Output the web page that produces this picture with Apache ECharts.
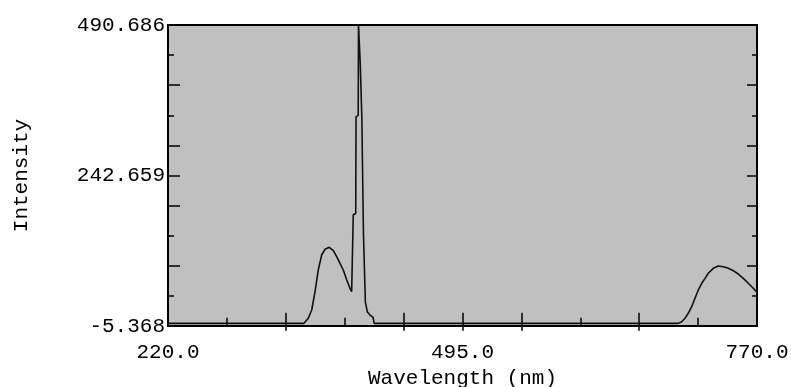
<!DOCTYPE html>
<html>
<head>
<meta charset="utf-8">
<script src="https://cdn.jsdelivr.net/npm/echarts@6/dist/echarts.min.js"></script>
<style>
  html, body { margin: 0; padding: 0; background: #fff; }
  #chart { width: 791px; height: 387px; }
</style>
</head>
<body>
<div id="chart"></div>
<script>
// 光谱数据：波长 (nm)
const wavelength = [220, 347.0, 351.0, 354.2, 357.3, 360.3, 363.5, 366.6, 370.6, 374.4,
  377.5, 380.6, 383.7, 386.9, 389.9, 391.5, 392.5, 393.0, 395.3, 395.6,
  397.6, 397.9, 399.0, 399.5, 400.8, 401.0, 402.2, 402.5, 404.0, 404.3,
  405.9, 406.2, 409.0, 411.5, 412.5, 696.5, 699.7, 702.8, 705.8, 709.0,
  712.1, 715.2, 718.4, 721.5, 724.5, 729.2, 733.9, 738.5, 743.2, 747.9,
  752.5, 757.2, 761.9, 766.5, 770];
// 强度
const intensity = [-1, -1, 7.3, 21.0, 51.2, 86.9, 111.6, 121.0, 124.3, 118.7,
  108.8, 97.9, 86.9, 70.4, 56.8, 51.2, 49, 178, 180, 339,
  342, 490.6, 488, 428, 426, 339, 337, 148, 146, 34,
  32, 17.7, 12, 9, -1, -1, 1.7, 7.3, 15.6, 26.4,
  40.3, 54.0, 65.0, 73.2, 81.5, 89.7, 93.5, 92.4, 89.7, 85.8,
  80.3, 73.2, 65.0, 56.8, 50];

// 刻度
const xLabels = [220, 495, 770];
const xLongTicks = [330, 440, 495, 550, 660];
const xShortTicks = [275, 385, 605, 715];
const yLabels = [-5.368, 242.659, 490.686];
const yLongTicks = [93.8428, 193.0536, 242.659, 292.2644, 391.4752];
const yShortTicks = [44.2374, 143.4482, 341.8698, 441.0806];

const font = 'Liberation Mono';

function xAxis(position, ticks, len, labels) {
  return {
    type: 'value', position: position, min: 220, max: 770,
    axisLine: { show: false },
    splitLine: { show: false },
    axisTick: { inside: true, length: len, customValues: ticks,
      lineStyle: { color: '#000', width: 1.5 } },
    axisLabel: labels ? {
      customValues: labels, margin: 16, color: '#000',
      fontFamily: font, fontSize: 21,
      formatter: v => v.toFixed(1)
    } : { show: false }
  };
}

function yAxis(position, ticks, len, labels) {
  return {
    type: 'value', position: position, min: -5.368, max: 490.686,
    axisLine: { show: false },
    splitLine: { show: false },
    axisTick: { inside: true, length: len, customValues: ticks,
      lineStyle: { color: '#000', width: 1.5 } },
    axisLabel: labels ? {
      customValues: labels, margin: 3, color: '#000',
      fontFamily: font, fontSize: 21,
      formatter: v => v.toFixed(3)
    } : { show: false }
  };
}

const chart = echarts.init(document.getElementById('chart'));

const xMain = xAxis('bottom', xLongTicks, 10, xLabels);
xMain.name = 'Wavelength (nm)';
xMain.nameLocation = 'middle';
xMain.nameGap = 37;
xMain.nameTextStyle = { color: '#000', fontFamily: font, fontSize: 21 };

const yMain = yAxis('left', yLongTicks, 12, yLabels);
yMain.name = 'Intensity';
yMain.nameLocation = 'middle';
yMain.nameGap = 136;
yMain.nameTextStyle = { color: '#000', fontFamily: font, fontSize: 21 };

chart.setOption({
  animation: false,
  grid: {
    left: 168, top: 25, right: 34, bottom: 61,
    outerBoundsMode: 'none',
    show: true, backgroundColor: '#c0c0c0',
    borderColor: '#000', borderWidth: 2
  },
  xAxis: [
    xMain,
    xAxis('bottom', xShortTicks, 5),
    xAxis('top', xLongTicks, 8),
    xAxis('top', xShortTicks, 4)
  ],
  yAxis: [
    yMain,
    yAxis('left', yShortTicks, 6),
    yAxis('right', yLongTicks, 10),
    yAxis('right', yShortTicks, 5)
  ],
  series: [{
    type: 'line',
    xAxisIndex: 0, yAxisIndex: 0,
    data: wavelength.map((w, i) => [w, intensity[i]]),
    showSymbol: false,
    lineStyle: { color: '#111', width: 1.6 }
  }]
});
</script>
</body>
</html>
